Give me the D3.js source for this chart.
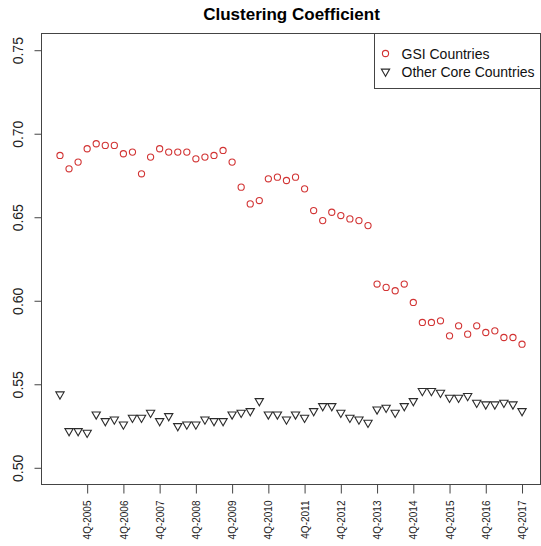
<!DOCTYPE html>
<html>
<head>
<meta charset="utf-8">
<script src="https://cdn.jsdelivr.net/npm/d3@7"></script>
<style>
  html, body { margin: 0; padding: 0; background: #fff; }
  svg { display: block; font-family: "Liberation Sans", Arial, sans-serif; }
</style>
</head>
<body>
<svg id="chart" width="541" height="546"></svg>
<script>
// Quarterly series, 1Q-2005 .. 4Q-2017
const years = [2005, 2006, 2007, 2008, 2009, 2010, 2011, 2012, 2013, 2014, 2015, 2016, 2017];
const quarters = years.flatMap(y => [1, 2, 3, 4].map(q => q + "Q-" + y));

const gsiCountries = [
  0.687, 0.679, 0.683, 0.691, 0.694, 0.693, 0.693, 0.688,
  0.689, 0.676, 0.686, 0.691, 0.689, 0.689, 0.689, 0.685,
  0.686, 0.687, 0.690, 0.683, 0.668, 0.658, 0.660, 0.673,
  0.674, 0.672, 0.674, 0.667, 0.654, 0.648, 0.653, 0.651,
  0.649, 0.648, 0.645, 0.610, 0.608, 0.606, 0.610, 0.599,
  0.587, 0.587, 0.588, 0.579, 0.585, 0.580, 0.585, 0.581,
  0.582, 0.578, 0.578, 0.574
];

const otherCoreCountries = [
  0.544, 0.522, 0.522, 0.521, 0.532, 0.528, 0.529, 0.526,
  0.530, 0.530, 0.533, 0.528, 0.531, 0.525, 0.526, 0.526,
  0.529, 0.528, 0.528, 0.532, 0.533, 0.534, 0.540, 0.532,
  0.532, 0.529, 0.532, 0.530, 0.534, 0.537, 0.537, 0.533,
  0.530, 0.529, 0.527, 0.535, 0.536, 0.533, 0.537, 0.540,
  0.546, 0.546, 0.545, 0.542, 0.542, 0.543, 0.539, 0.538,
  0.538, 0.539, 0.538, 0.534
];

const xTickLabels = ["4Q-2005", "4Q-2006", "4Q-2007", "4Q-2008", "4Q-2009", "4Q-2010", "4Q-2011",
                     "4Q-2012", "4Q-2013", "4Q-2014", "4Q-2015", "4Q-2016", "4Q-2017"];
const yTicks = [0.50, 0.55, 0.60, 0.65, 0.70, 0.75];
const seriesNames = ["GSI Countries", "Other Core Countries"];

// Plot frame
const box = { left: 41.5, right: 540.5, top: 33.5, bottom: 484.5 };
const n = quarters.length;
const padX = (n - 1) * 0.04;
const x = d3.scaleLinear().domain([1 - padX, n + padX]).range([box.left, box.right]);
const y = d3.scaleLinear().domain([0.49, 0.76]).range([box.bottom, box.top]);

const svg = d3.select("#chart");
const red = "#d23434";
const dark = "#2b2b2b";
const frameColor = "#444";

// Title
svg.append("text")
  .attr("x", 291.5).attr("y", 19.5)
  .attr("text-anchor", "middle")
  .attr("font-size", 17).attr("font-weight", "bold")
  .attr("fill", "#000")
  .text("Clustering Coefficient");

// Y axis
const yAxis = d3.axisLeft(y).tickValues(yTicks).tickFormat(d3.format(".2f")).tickSize(7).tickPadding(0);
const gy = svg.append("g").attr("transform", `translate(${box.left},0)`).call(yAxis);
gy.select(".domain").remove();
gy.selectAll(".tick line").attr("stroke", frameColor);
gy.selectAll(".tick text")
  .attr("font-size", 14).attr("fill", "#222")
  .attr("text-anchor", "middle")
  .attr("x", null).attr("dy", null)
  .attr("transform", `translate(${23 - box.left},0) rotate(-90)`);

// X axis
const xTickPos = xTickLabels.map(l => quarters.indexOf(l) + 1);
const xAxis = d3.axisBottom(x).tickValues(xTickPos)
  .tickFormat((d, i) => xTickLabels[i]).tickSize(9).tickPadding(0);
const gx = svg.append("g").attr("transform", `translate(0,${box.bottom})`).call(xAxis);
gx.select(".domain").remove();
gx.selectAll(".tick line").attr("stroke", frameColor);
gx.selectAll(".tick text")
  .attr("font-size", 10).attr("fill", "#222")
  .attr("text-anchor", "end")
  .attr("y", null).attr("dy", "0.36em")
  .attr("transform", `translate(0,${500.5 - box.bottom}) rotate(-90)`);

// Frame
svg.append("rect")
  .attr("x", box.left).attr("y", box.top)
  .attr("width", box.right - box.left).attr("height", box.bottom - box.top)
  .attr("fill", "none").attr("stroke", frameColor).attr("stroke-width", 1);

// Marker helpers
const rCircle = 3.1;
const rTri = 4.8;
function downTriangle(cx, cy, r) {
  const h = r * Math.sqrt(3) / 2;
  return `M${cx},${cy + r}L${cx - h},${cy - r / 2}L${cx + h},${cy - r / 2}Z`;
}

// GSI countries: open circles
svg.append("g").selectAll("circle")
  .data(gsiCountries)
  .join("circle")
  .attr("cx", (d, i) => x(i + 1))
  .attr("cy", d => y(d))
  .attr("r", rCircle)
  .attr("fill", "none")
  .attr("stroke", red)
  .attr("stroke-width", 1.1);

// Other core countries: open down-triangles
svg.append("g").selectAll("path")
  .data(otherCoreCountries)
  .join("path")
  .attr("d", (d, i) => downTriangle(x(i + 1), y(d), rTri))
  .attr("fill", "none")
  .attr("stroke", dark)
  .attr("stroke-width", 1.1);

// Legend
const legend = svg.append("g");
legend.append("rect")
  .attr("x", 374.5).attr("y", box.top)
  .attr("width", box.right - 374.5).attr("height", 55)
  .attr("fill", "#fff").attr("stroke", frameColor);
const rowsY = [53.5, 71.5];
legend.append("circle")
  .attr("cx", 385.5).attr("cy", rowsY[0]).attr("r", rCircle)
  .attr("fill", "none").attr("stroke", red).attr("stroke-width", 1.1);
legend.append("path")
  .attr("d", downTriangle(385.5, rowsY[1], rTri))
  .attr("fill", "none").attr("stroke", dark).attr("stroke-width", 1.1);
legend.selectAll("text.lab")
  .data(seriesNames)
  .join("text")
  .attr("class", "lab")
  .attr("x", 401.5)
  .attr("y", (d, i) => rowsY[i])
  .attr("dy", "0.36em")
  .attr("font-size", 14).attr("fill", "#111")
  .text(d => d);
</script>
</body>
</html>
